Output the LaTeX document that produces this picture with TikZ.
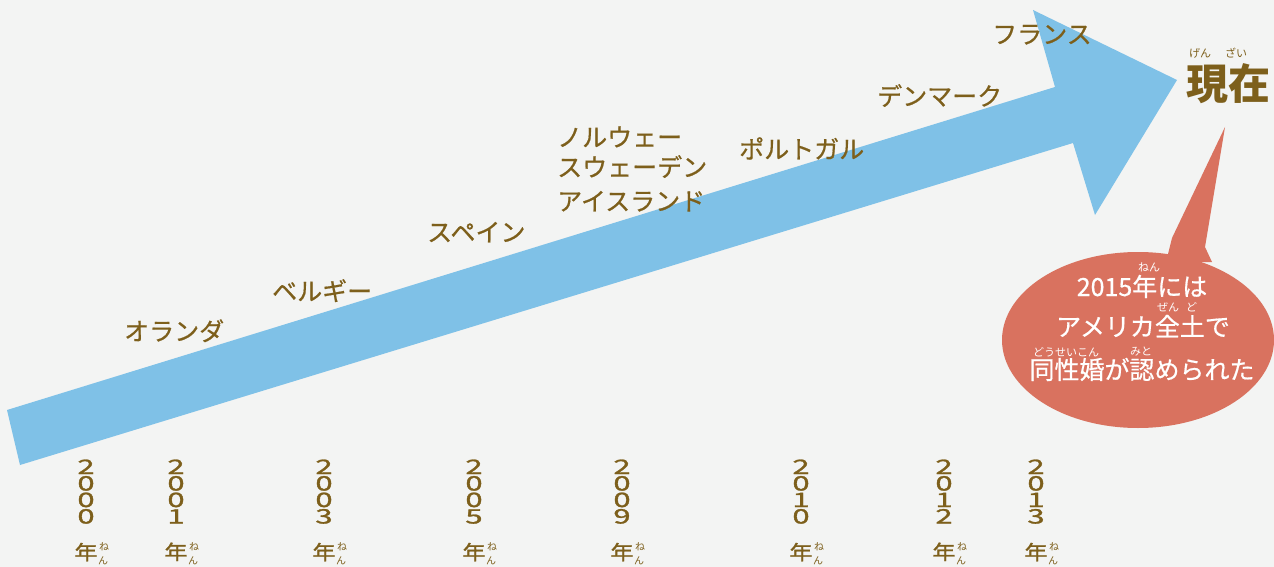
\documentclass[tikz,border=0pt]{standalone}
\usepackage{fontspec}
\usepackage{graphicx}
\newfontfamily\jp[FakeBold=0.6]{Noto Sans CJK JP}
\newfontfamily\jpd[FakeBold=1.2]{Noto Sans CJK JP}
\newfontfamily\jpr{Noto Sans CJK JP}
\definecolor{bg}{HTML}{F3F4F3}
\definecolor{arrowblue}{HTML}{7FC1E7}
\definecolor{olive}{HTML}{7D5F1B}
\definecolor{bubblered}{HTML}{D9725F}
\newcommand\yrdg[1]{\scalebox{1.55}[1]{#1}}
\newcommand\yrnen{\scalebox{1.15}[1]{年}\rlap{\hspace{1.5pt}\jpr\fontsize{10}{10}\selectfont\raisebox{9pt}{ね}}\rlap{\hspace{0.5pt}\jpr\fontsize{10}{10}\selectfont\raisebox{-5pt}{ん}}}
\begin{document}
\begin{tikzpicture}[x=1pt,y=-1pt,
  country/.style={anchor=base west, inner sep=0pt, text=olive, font=\jp\fontsize{25}{25}\selectfont},
  yearcol/.style={anchor=north, align=center, inner sep=0pt, text=olive, font=\jpd\fontsize{20}{16.5}\selectfont},
  bubbletext/.style={anchor=base, inner sep=0pt, text=white, font=\jp\fontsize{25}{25}\selectfont},
  bubbleruby/.style={anchor=center, inner sep=0pt, text=white, font=\jpr\fontsize{11}{11}\selectfont},
  nowtext/.style={anchor=base, inner sep=0pt, text=olive, font=\jpr\bfseries\fontsize{42}{42}\selectfont},
  nowruby/.style={anchor=center, inner sep=0pt, text=olive, font=\jpr\fontsize{11}{11}\selectfont}]
\useasboundingbox (0,0) rectangle (1274,567);
\fill[bg] (0,0) rectangle (1274,567);
% big arrow
\fill[arrowblue] (7,410) -- (1055,87) -- (1033,10) -- (1177,80) -- (1095,215) -- (1073,143) -- (20,465) -- cycle;
% speech bubble
\fill[bubblered] (1138,340) ellipse[x radius=136, y radius=88];
\fill[bubblered] (1166,262) -- (1172,238) -- (1225,127) -- (1205,247) -- (1212,262) -- cycle;
% countries
\node[country] (nl) at (124,340.5) {オランダ};
\node[country] (be) at (272,300.5) {ベルギー};
\node[country] (es) at (427,241.5) {スペイン};
\node[country] (no) at (557,146.5) {ノルウェー};
\node[country] (se) at (557,176.5) {スウェーデン};
\node[country] (is) at (557,210.5) {アイスランド};
\node[country] (pt) at (739,158.5) {ポルトガル};
\node[country] (dk) at (877,105.5) {デンマーク};
\node[country] (fr) at (992,43.5) {フランス};
% now
\node[nowtext] (now) at (1228,100) {現在};
\node[nowruby] (nowr1) at (1200,53) {げん};
\node[nowruby] (nowr2) at (1236,53) {ざい};
% bubble text
\node[bubbletext] (b1) at (1142,296) {2015年には};
\node[bubbletext] (b2) at (1143,336) {アメリカ全土で};
\node[bubbletext] (b3) at (1142,379) {同性婚が認められた};
\node[bubbleruby] (r1) at (1149,267) {ねん};
\node[bubbleruby] (r2) at (1177,307) {ぜん\hspace{7pt}ど};
\node[bubbleruby] (r3) at (1066,352) {どうせいこん};
\node[bubbleruby] (r4) at (1141,352) {みと};
% years
\foreach \x/\a/\b/\c/\d/\n in {86/2/0/0/0/a, 176/2/0/0/1/b, 324/2/0/0/3/c, 474/2/0/0/5/d, 622/2/0/0/9/e, 801/2/0/1/0/f, 944/2/0/1/2/g, 1036/2/0/1/3/h}{
  \node[yearcol] (y\n) at (\x,459.3) {\yrdg{\a}\\\yrdg{\b}\\\yrdg{\c}\\\yrdg{\d}\\[18pt]\yrnen};
}
\end{tikzpicture}
\end{document}
